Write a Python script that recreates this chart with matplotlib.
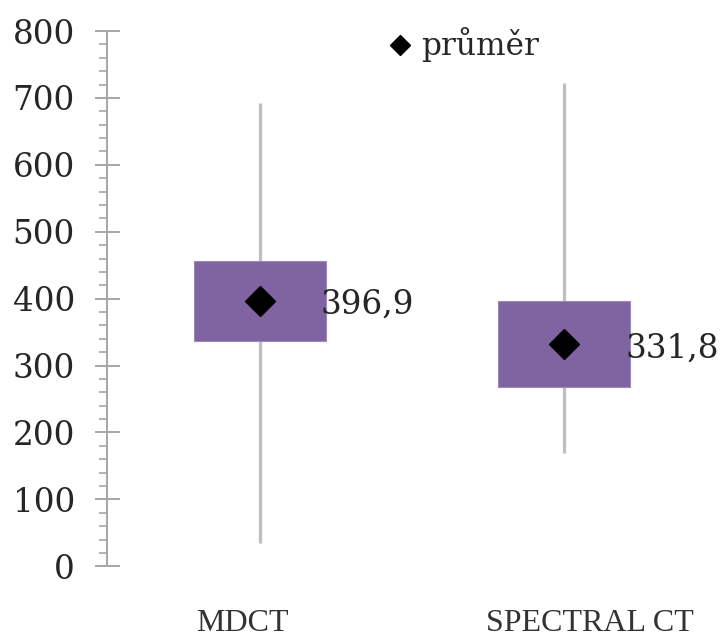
import matplotlib
matplotlib.use("Agg")
import matplotlib.pyplot as plt
from matplotlib.lines import Line2D
from matplotlib.ticker import MultipleLocator

categories = ["MDCT", "SPECTRAL CT"]
minimum = [35, 170]
q1 = [337, 268]
q3 = [456, 397]
maximum = [693, 723]
mean = [396.9, 331.8]
mean_labels = ["396,9", "331,8"]
y_ticks = [0, 100, 200, 300, 400, 500, 600, 700, 800]

box_color = "#8064a2"
whisker_color = "#bfbfbf"
axis_color = "#a6a6a6"
text_color = "#262626"
num_font = "DejaVu Serif"
cat_font = "Liberation Serif"

fig = plt.figure(figsize=(7.24, 6.42), dpi=100)
ax = fig.add_axes([107.4 / 724, 75.7 / 642, (716.6 - 107.4) / 724, (611 - 75.7) / 642])

x = [i + 0.5 for i in range(len(categories))]

# whiskers from min to max, boxes from Q1 to Q3
ax.vlines(x, minimum, maximum, color=whisker_color, lw=2.3, zorder=1)
heights = [b - a for a, b in zip(q1, q3)]
ax.bar(x, heights, bottom=q1, width=0.433, color=box_color,
       edgecolor="#9c88ba", linewidth=0.8, zorder=2)
ax.plot(x, mean, linestyle="none", marker="D", markersize=15,
        color="black", zorder=3)

for xi, m, lab in zip(x, mean, mean_labels):
    ax.annotate(lab, (xi, m), xytext=(44, -3), textcoords="offset points",
                ha="left", va="center", fontsize=23.5, family=num_font,
                color=text_color, zorder=4)

ax.set_xlim(0, len(categories))
ax.set_ylim(0, 800)
ax.set_yticks(y_ticks)
ax.yaxis.set_minor_locator(MultipleLocator(20))
ax.set_xticks([])

for side in ("top", "right", "bottom"):
    ax.spines[side].set_visible(False)
ax.spines["left"].set_color(axis_color)
ax.spines["left"].set_linewidth(1.4)

ax.tick_params(axis="y", which="major", direction="inout", length=18,
               width=1.4, color=axis_color, pad=14.5, labelsize=23.5,
               labelcolor=text_color)
ax.tick_params(axis="y", which="minor", direction="out", length=5.8,
               width=1.2, color=axis_color)
for t in ax.get_yticklabels():
    t.set_family(num_font)

# category names under the plot
cat_offsets = [-0.056, 0.085]
for xi, off, name in zip(x, cat_offsets, categories):
    ax.text(xi + off, -0.121, name, transform=ax.get_xaxis_transform(),
            ha="center", va="baseline", fontsize=23, family=cat_font,
            color="#333333")

handle = Line2D([], [], linestyle="none", marker="D", markersize=10,
                color="black")
leg = fig.legend([handle], ["průměr"], loc="center left",
                 bbox_to_anchor=(388 / 724, 1 - 45 / 642), frameon=False,
                 handlelength=0.75, handletextpad=0.3, borderaxespad=0,
                 borderpad=0, prop={"family": num_font, "size": 22.5})
for t in leg.get_texts():
    t.set_color(text_color)

fig.savefig("out.png", dpi=100)
